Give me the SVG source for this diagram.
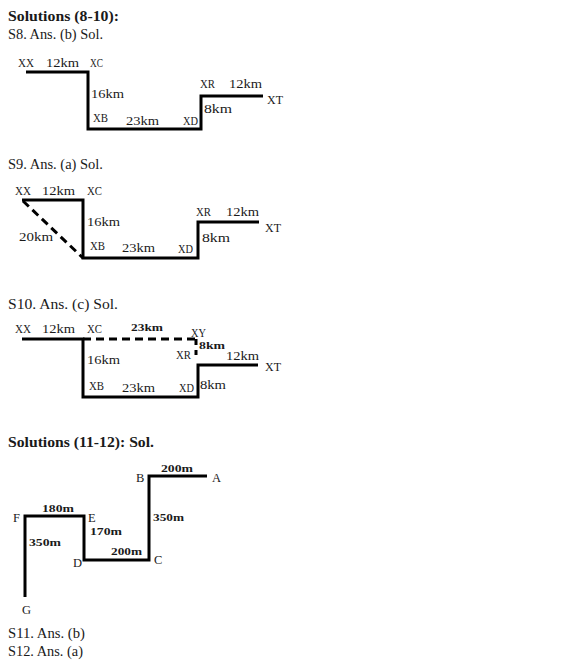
<svg xmlns="http://www.w3.org/2000/svg" width="586" height="671" viewBox="0 0 586 671">
<style>
text{font-family:"Liberation Serif","DejaVu Serif",serif;fill:#1a1a1a}
.h{font-size:14.5px;font-weight:bold}
.t{font-size:14px}
.l{font-size:12.5px}
.b{font-size:11px;font-weight:bold}
.p{fill:none;stroke:#000;stroke-width:3;stroke-linejoin:miter}
.d{fill:none;stroke:#000;stroke-width:3;stroke-dasharray:8,5}
</style>
<rect width="586" height="671" fill="#fff"/>
<text class="h" x="8" y="21" textLength="111" lengthAdjust="spacingAndGlyphs">Solutions (8-10):</text>
<text class="t" x="8" y="39" textLength="95" lengthAdjust="spacingAndGlyphs">S8. Ans. (b) Sol.</text>
<text class="t" x="8" y="169" textLength="95" lengthAdjust="spacingAndGlyphs">S9. Ans. (a) Sol.</text>
<text class="t" x="8" y="309" textLength="110" lengthAdjust="spacingAndGlyphs">S10. Ans. (c) Sol.</text>
<text class="h" x="8" y="447" textLength="146" lengthAdjust="spacingAndGlyphs">Solutions (11-12): Sol.</text>
<text class="t" x="8" y="638" textLength="77" lengthAdjust="spacingAndGlyphs">S11. Ans. (b)</text>
<text class="t" x="8" y="656" textLength="75" lengthAdjust="spacingAndGlyphs">S12. Ans. (a)</text>
<g id="connectors">
<path class="p" d="M26,72H88V129H201V96H263"/>
<path class="p" d="M22,200H83V258H198V222H259"/>
<path class="d" d="M23,201L83,258"/>
<path class="p" d="M22,339H83V397H198V365H258"/>
<path class="d" d="M83,339H197" stroke-dasharray="10,6"/>
<path class="p" d="M196,339V345M196,350V355" stroke-width="2.5"/>
<path class="p" d="M207,476H149V560H84V516H25V597"/>
</g>
<g id="s8">
<text class="l" x="18" y="67" textLength="16" lengthAdjust="spacingAndGlyphs">XX</text>
<text class="l" x="46" y="67" textLength="33" lengthAdjust="spacingAndGlyphs">12km</text>
<text class="l" x="90" y="67" textLength="13" lengthAdjust="spacingAndGlyphs">XC</text>
<text class="l" x="91" y="98" textLength="33" lengthAdjust="spacingAndGlyphs">16km</text>
<text class="l" x="93" y="122" textLength="15" lengthAdjust="spacingAndGlyphs">XB</text>
<text class="l" x="126" y="125" textLength="33" lengthAdjust="spacingAndGlyphs">23km</text>
<text class="l" x="183" y="125" textLength="15" lengthAdjust="spacingAndGlyphs">XD</text>
<text class="l" x="200" y="88" textLength="15" lengthAdjust="spacingAndGlyphs">XR</text>
<text class="l" x="229" y="88" textLength="33" lengthAdjust="spacingAndGlyphs">12km</text>
<text class="l" x="267" y="104" textLength="16" lengthAdjust="spacingAndGlyphs">XT</text>
<text class="l" x="204" y="113" textLength="28" lengthAdjust="spacingAndGlyphs">8km</text>
</g>
<g id="s9">
<text class="l" x="15" y="195" textLength="16" lengthAdjust="spacingAndGlyphs">XX</text>
<text class="l" x="42" y="195" textLength="33" lengthAdjust="spacingAndGlyphs">12km</text>
<text class="l" x="87" y="195" textLength="15" lengthAdjust="spacingAndGlyphs">XC</text>
<text class="l" x="87" y="226" textLength="33" lengthAdjust="spacingAndGlyphs">16km</text>
<text class="l" x="19" y="241" textLength="34" lengthAdjust="spacingAndGlyphs">20km</text>
<text class="l" x="90" y="250" textLength="15" lengthAdjust="spacingAndGlyphs">XB</text>
<text class="l" x="122" y="252" textLength="33" lengthAdjust="spacingAndGlyphs">23km</text>
<text class="l" x="178" y="253" textLength="15" lengthAdjust="spacingAndGlyphs">XD</text>
<text class="l" x="196" y="216" textLength="15" lengthAdjust="spacingAndGlyphs">XR</text>
<text class="l" x="226" y="216" textLength="33" lengthAdjust="spacingAndGlyphs">12km</text>
<text class="l" x="265" y="232" textLength="16" lengthAdjust="spacingAndGlyphs">XT</text>
<text class="l" x="202" y="242" textLength="28" lengthAdjust="spacingAndGlyphs">8km</text>
</g>
<g id="s10">
<text class="l" x="15" y="333" textLength="16" lengthAdjust="spacingAndGlyphs">XX</text>
<text class="l" x="42" y="333" textLength="33" lengthAdjust="spacingAndGlyphs">12km</text>
<text class="l" x="87" y="333" textLength="15" lengthAdjust="spacingAndGlyphs">XC</text>
<text class="b" x="131" y="331" textLength="32" lengthAdjust="spacingAndGlyphs">23km</text>
<text class="l" x="191" y="337" textLength="15" lengthAdjust="spacingAndGlyphs">XY</text>
<text class="b" x="199" y="349" textLength="26" lengthAdjust="spacingAndGlyphs">8km</text>
<text class="l" x="176" y="359" textLength="15" lengthAdjust="spacingAndGlyphs">XR</text>
<text class="l" x="226" y="360" textLength="33" lengthAdjust="spacingAndGlyphs">12km</text>
<text class="l" x="265" y="371" textLength="16" lengthAdjust="spacingAndGlyphs">XT</text>
<text class="l" x="87" y="364" textLength="33" lengthAdjust="spacingAndGlyphs">16km</text>
<text class="l" x="89" y="390" textLength="15" lengthAdjust="spacingAndGlyphs">XB</text>
<text class="l" x="122" y="392" textLength="33" lengthAdjust="spacingAndGlyphs">23km</text>
<text class="l" x="179" y="392" textLength="15" lengthAdjust="spacingAndGlyphs">XD</text>
<text class="l" x="200" y="389" textLength="26" lengthAdjust="spacingAndGlyphs">8km</text>
</g>
<g id="s11">
<text class="b" x="161" y="472" textLength="32" lengthAdjust="spacingAndGlyphs">200m</text>
<text class="l" x="212" y="482">A</text>
<text class="l" x="136" y="482">B</text>
<text class="b" x="153" y="521" textLength="31" lengthAdjust="spacingAndGlyphs">350m</text>
<text class="b" x="42" y="512" textLength="32" lengthAdjust="spacingAndGlyphs">180m</text>
<text class="l" x="13" y="522">F</text>
<text class="l" x="88" y="522">E</text>
<text class="b" x="90" y="535" textLength="32" lengthAdjust="spacingAndGlyphs">170m</text>
<text class="b" x="29" y="546" textLength="32" lengthAdjust="spacingAndGlyphs">350m</text>
<text class="b" x="111" y="555" textLength="31" lengthAdjust="spacingAndGlyphs">200m</text>
<text class="l" x="73" y="567">D</text>
<text class="l" x="154" y="564">C</text>
<text class="l" x="22" y="614">G</text>
</g>
</svg>
